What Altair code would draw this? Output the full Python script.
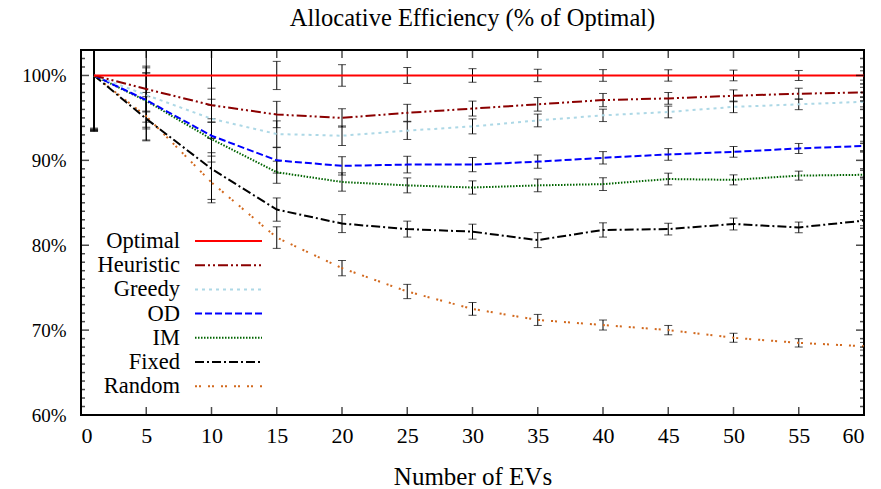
import altair as alt
import pandas as pd

# ---------------- data ----------------
x_vals = [1, 5, 10, 15, 20, 25, 30, 35, 40, 45, 50, 55, 60]

optimal = [100, 100, 100, 100, 100, 100, 100, 100, 100, 100, 100, 100, 100]
heuristic = [100, 98.4, 96.5, 95.4, 95.0, 95.6, 96.1, 96.6, 97.1, 97.3, 97.6, 97.85, 98.0]
greedy = [100, 97.7, 94.9, 93.1, 92.9, 93.5, 94.0, 94.7, 95.3, 95.7, 96.3, 96.6, 96.9]
od = [100, 97.1, 92.9, 90.0, 89.35, 89.5, 89.5, 89.85, 90.3, 90.7, 91.0, 91.4, 91.7]
im = [100, 97.0, 92.5, 88.6, 87.45, 87.05, 86.8, 87.05, 87.2, 87.8, 87.7, 88.2, 88.3]
fixed = [100, 94.9, 89.0, 84.2, 82.55, 81.9, 81.6, 80.6, 81.8, 81.9, 82.5, 82.1, 82.9]
random_ = [100, 95.2, 87.4, 80.9, 77.3, 74.55, 72.5, 71.2, 70.6, 70.0, 69.1, 68.5, 68.1]

optimal_err = [6.2, 4.2, 3.5, 1.66, 1.27, 0.94, 0.8, 0.73, 0.69, 0.67, 0.63, 0.59, 0.55]
heuristic_err = [6.4, 2.7, 2.0, 1.55, 1.08, 1.0, 0.88, 0.8, 0.78, 0.69, 0.7, 0.65, 0.6]
greedy_err = [6.3, 3.2, 2.3, 1.55, 1.15, 1.04, 0.88, 0.75, 0.73, 0.69, 0.68, 0.63, 0.6]
od_err = [6.5, 3.2, 2.0, 1.5, 1.08, 0.98, 0.84, 0.78, 0.73, 0.69, 0.63, 0.59, 0.55]
im_err = [6.4, 3.3, 2.0, 1.3, 1.08, 0.88, 0.78, 0.75, 0.75, 0.69, 0.59, 0.53, 0.5]
fixed_err = [6.6, 2.6, 3.6, 1.37, 1.06, 0.94, 0.88, 0.88, 0.84, 0.69, 0.7, 0.63, 0.6]
random_err = [6.5, 2.8, 2.4, 1.27, 0.9, 0.84, 0.75, 0.65, 0.59, 0.55, 0.53, 0.49, 0.45]

series_names = ["Optimal", "Heuristic", "Greedy", "OD", "IM", "Fixed", "Random"]
series_vals = [optimal, heuristic, greedy, od, im, fixed, random_]
series_errs = [optimal_err, heuristic_err, greedy_err, od_err, im_err, fixed_err, random_err]

x_ticks = [0, 5, 10, 15, 20, 25, 30, 35, 40, 45, 50, 55, 60]
y_major = [60, 70, 80, 90, 100]
y_minor = list(range(61, 103))

# ---------------- styles ----------------
colors = ["#ff0000", "#8b0000", "#add8e6", "#0000ff", "#006400", "#000000", "#d2691e"]
dashes = [[1, 0], [10, 3, 2, 3, 2, 3], [3, 4], [7, 3], [1.5, 1.5], [9, 3, 2, 3], [2, 2, 2, 7]]

W, H = 783, 365
FONT = "Liberation Serif"

rows = []
for name, vals, errs in zip(series_names, series_vals, series_errs):
    for xv, v, e in zip(x_vals, vals, errs):
        rows.append({"series": name, "x": xv, "y": v, "lo": v - e, "hi": v + e})
df = pd.DataFrame(rows)

xs = alt.Scale(domain=[0, 60], nice=False, zero=False)
ys = alt.Scale(domain=[60, 103], nice=False, zero=False)

x_axis = alt.Axis(values=x_ticks, tickSize=0, domain=False, grid=False,
                  labelFont=FONT, labelFontSize=22, labelPadding=10,
                  labelColor="black", title="Number of EVs",
                  titleFont=FONT, titleFontSize=25, titleFontWeight="normal",
                  titleColor="black", titlePadding=18)
y_axis = alt.Axis(values=y_major, tickSize=0, domain=False, grid=False,
                  labelFont=FONT, labelFontSize=19, labelPadding=15,
                  labelColor="black", labelExpr="datum.value + '%'",
                  title="")

layers = []

# error bars (black)
layers.append(
    alt.Chart(df).mark_rule(color="black", strokeWidth=1, clip=True).encode(
        x=alt.X("x:Q", scale=xs, axis=x_axis),
        y=alt.Y("lo:Q", scale=ys, axis=y_axis),
        y2="hi:Q",
    )
)
for fld in ["lo", "hi"]:
    layers.append(
        alt.Chart(df).mark_tick(orient="horizontal", size=8, thickness=1,
                                color="black", clip=True).encode(
            x=alt.X("x:Q", scale=xs, axis=x_axis),
            y=alt.Y(f"{fld}:Q", scale=ys, axis=y_axis),
        )
    )

# lines (draw bottom series first)
for name, c, d in reversed(list(zip(series_names, colors, dashes))):
    layers.append(
        alt.Chart(df[df.series == name]).mark_line(
            color=c, strokeDash=d, strokeWidth=2, clip=True
        ).encode(
            x=alt.X("x:Q", scale=xs, axis=x_axis),
            y=alt.Y("y:Q", scale=ys, axis=y_axis),
        )
    )

# inward ticks (frame)
xt_df = pd.DataFrame({"v": x_ticks[1:-1]})
ymaj_df = pd.DataFrame({"v": y_major[1:]})
ymin_df = pd.DataFrame({"v": [v for v in y_minor if v not in y_major]})
for ydat in [60, 103]:
    layers.append(
        alt.Chart(xt_df).mark_tick(orient="vertical", size=16, thickness=1.5,
                                   color="black", clip=True).encode(
            x=alt.X("v:Q", scale=xs, axis=x_axis),
            y=alt.YDatum(ydat, scale=ys, axis=y_axis),
        )
    )
for xdat in [0, 60]:
    layers.append(
        alt.Chart(ymaj_df).mark_tick(orient="horizontal", size=16, thickness=1.5,
                                     color="black", clip=True).encode(
            x=alt.XDatum(xdat, scale=xs, axis=x_axis),
            y=alt.Y("v:Q", scale=ys, axis=y_axis),
        )
    )
    layers.append(
        alt.Chart(ymin_df).mark_tick(orient="horizontal", size=8, thickness=1.5,
                                     color="black", clip=True).encode(
            x=alt.XDatum(xdat, scale=xs, axis=x_axis),
            y=alt.Y("v:Q", scale=ys, axis=y_axis),
        )
    )

# legend (manual, labels left of samples)
LEG_X_TEXT = 99
LEG_X0, LEG_X1 = 114, 181
LEG_Y0, LEG_DY = 191, 24.2
dummy = pd.DataFrame({"a": [0]})
for i, (name, c, d) in enumerate(zip(series_names, colors, dashes)):
    yy = LEG_Y0 + i * LEG_DY
    layers.append(
        alt.Chart(dummy).mark_text(align="right", baseline="middle", font=FONT,
                                   fontSize=22.5, color="black").encode(
            x=alt.value(LEG_X_TEXT), y=alt.value(yy), text=alt.value(name)
        )
    )
    layers.append(
        alt.Chart(dummy).mark_rule(color=c, strokeDash=d, strokeWidth=2).encode(
            x=alt.value(LEG_X0), x2=alt.value(LEG_X1), y=alt.value(yy)
        )
    )

chart = alt.layer(*layers).properties(
    width=W, height=H,
    background="white",
    title=alt.TitleParams("Allocative Efficiency (% of Optimal)", font=FONT, fontSize=24.5,
                          fontWeight="normal", color="black", anchor="middle", offset=19),
    autosize=alt.AutoSizeParams(type="none"),
    padding={"left": 81, "top": 50, "right": 17, "bottom": 74},
).configure_view(stroke="black", strokeWidth=2)

chart.save("out.html", embed_options={"renderer": "svg", "actions": False})
